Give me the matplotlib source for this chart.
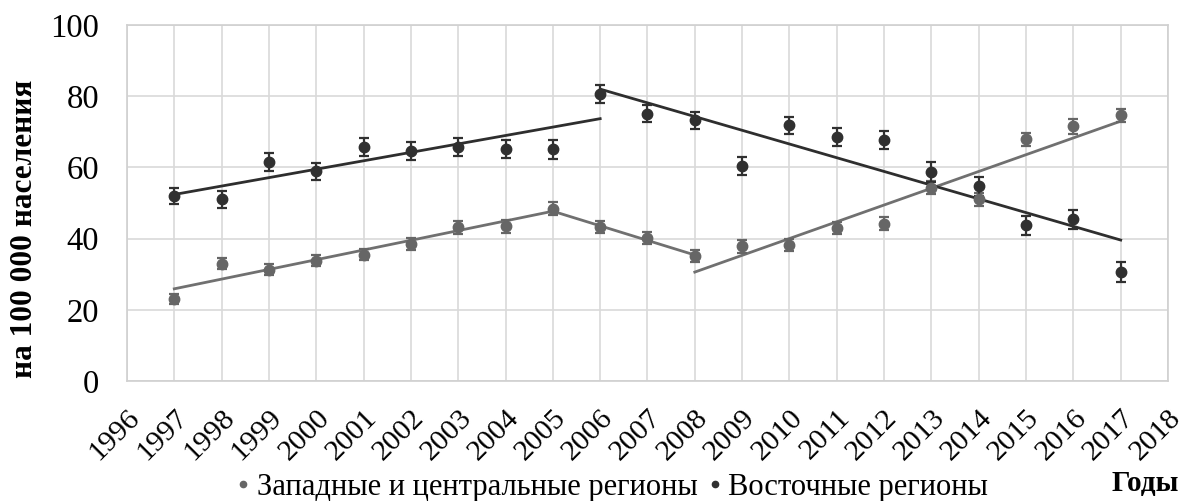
import matplotlib
matplotlib.use("Agg")
import matplotlib.pyplot as plt
from matplotlib.lines import Line2D

plt.rcParams['font.family'] = ['Liberation Serif', 'DejaVu Serif']

years = list(range(1997, 2018))

# Западные и центральные регионы
west = [23.1, 33.0, 31.3, 33.8, 35.5, 38.6, 43.2, 43.5, 48.4, 43.3, 40.2,
        35.2, 37.8, 38.3, 43.0, 44.2, 54.3, 51.0, 67.9, 71.5, 74.7]
west_err = [1.4, 1.6, 1.6, 1.6, 1.6, 1.7, 1.8, 1.8, 1.8, 1.7, 1.6,
            1.7, 1.7, 1.7, 1.8, 1.8, 1.9, 1.9, 1.9, 2.0, 1.8]

# Восточные регионы
east = [51.9, 51.0, 61.5, 58.9, 65.7, 64.7, 65.7, 65.1, 65.1, 80.6, 75.1,
        73.2, 60.4, 71.8, 68.6, 67.6, 58.7, 54.7, 43.7, 45.4, 30.7]
east_err = [2.3, 2.3, 2.5, 2.3, 2.5, 2.5, 2.5, 2.5, 2.6, 2.6, 2.3,
            2.5, 2.4, 2.5, 2.5, 2.5, 2.7, 2.6, 2.6, 2.6, 2.8]

# линии тренда (концы отрезков)
west_trend_x = [[1997, 2005, 2008], [2008, 2017]]
west_trend_y = [[25.9, 47.7, 35.4], [30.6, 73.0]]
east_trend_x = [[1997, 2006], [2006, 2017]]
east_trend_y = [[52.4, 73.7], [82.0, 39.6]]

tick_years = list(range(1996, 2019))

west_color = '#666666'
east_color = '#303030'

fig = plt.figure(figsize=(11.81, 5.01), dpi=100)
ax = fig.add_axes([0.1075, 0.2395, 0.8815, 0.7105])

for tx, ty in zip(west_trend_x, west_trend_y):
    ax.plot(tx, ty, color='#707070', lw=2, zorder=2)
for tx, ty in zip(east_trend_x, east_trend_y):
    ax.plot(tx, ty, color='#2e2e2e', lw=2, zorder=2)

ax.errorbar(years, west, yerr=west_err, fmt='o', color=west_color, ms=7.5,
            elinewidth=1.6, capsize=3.8, capthick=1.6, zorder=3)
ax.errorbar(years, east, yerr=east_err, fmt='o', color=east_color, ms=7.5,
            elinewidth=1.6, capsize=3.8, capthick=1.6, zorder=3)

ax.set_xlim(1996, 2018)
ax.set_ylim(0, 100)
ax.set_xticks(tick_years)
ax.set_xticklabels([str(y) for y in tick_years], rotation=45, ha='right',
                   va='top', rotation_mode='anchor', fontsize=21.5)
ax.set_yticks(range(0, 101, 20))
ax.tick_params(axis='y', labelsize=23.5, length=0, pad=20)
ax.tick_params(axis='x', length=0, pad=17)
ax.grid(True, color='#d9d9d9', lw=1.2)
ax.set_axisbelow(True)
for s in ax.spines.values():
    s.set_color('#d0d0d0')
    s.set_linewidth(1.2)

fig.text(25 / 1181, 1 - 229 / 501, 'на 100 000 населения', rotation=90,
         ha='center', va='center', fontsize=22.5, fontweight='bold')
fig.text(1179 / 1181, 1 - 491 / 501, 'Годы', ha='right', va='baseline',
         fontsize=21, fontweight='bold')

handles = [Line2D([], [], marker='o', ls='none', color=west_color, ms=4.5),
           Line2D([], [], marker='o', ls='none', color=east_color, ms=4.5)]
fig.legend(handles, ['Западные и центральные регионы', 'Восточные регионы'],
           loc='center', bbox_to_anchor=(612 / 1181, 1 - 487 / 501), ncol=2,
           frameon=False, fontsize=22, handlelength=0.5, handletextpad=0.2,
           columnspacing=0.3, borderpad=0, borderaxespad=0)

fig.savefig('out.png', dpi=100)
